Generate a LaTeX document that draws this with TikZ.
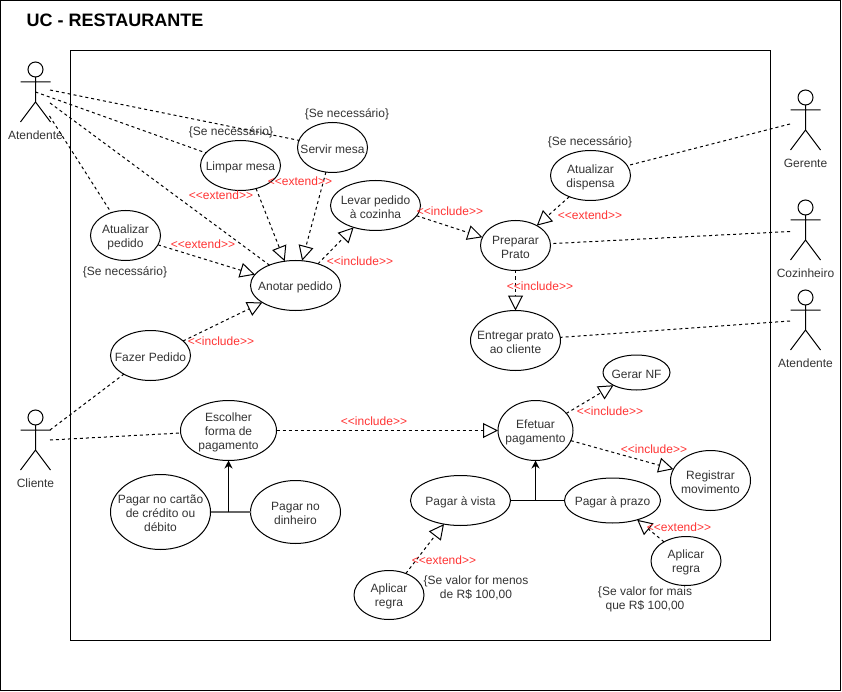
\documentclass[tikz,border=0pt]{standalone}
\usepackage{fontspec}
\setmainfont{Liberation Sans}
\usetikzlibrary{arrows.meta,calc,positioning,shapes.geometric}
\definecolor{texto}{HTML}{333333}
\definecolor{rotulo}{HTML}{FF3333}
\newcommand{\lbextend}{<{}<extend>{}>}
\newcommand{\lbinclude}{<{}<include>{}>}
\newcommand{\topo}{\rule{0pt}{12pt}}
\tikzset{
  uc/.style={draw, ellipse, inner xsep=-30pt, inner ysep=-8pt, outer sep=0pt, align=center, text=texto,
    font=\fontsize{12}{14}\selectfont},
  nota/.style={inner sep=0pt, align=center, text=texto, font=\fontsize{12}{14}\selectfont},
  rotulo/.style={inner sep=0pt, text=rotulo, font=\fontsize{12}{14}\selectfont},
  assoc/.style={dashed, dash pattern=on 3pt off 3pt},
  rel/.style={dashed, dash pattern=on 3pt off 3pt, -{Triangle[open,length=15pt,width=15pt]}},
  heranca/.style={-{Stealth[length=8pt,width=8pt]}},
  ator/.pic={
    \draw (15,7.5) circle (7.5);
    \draw (15,15) -- (15,40) (0,20) -- (30,20) (0,60) -- (15,40) -- (30,60);
    \node[nota] (-nome) at (15,73) {#1};
  }
}
\begin{document}
\begin{tikzpicture}[x=1pt, y=-1pt, line width=1pt]
  \useasboundingbox (0,0) rectangle (842,692);
  \draw (0.5,0.5) rectangle (840.5,690.5);
  \draw (70.5,50.5) rectangle (770.5,640.5);
  \node[inner sep=0pt, font=\fontsize{18}{21}\selectfont\bfseries] (titulo) at (115,20.5) {UC - RESTAURANTE};

  % atores
  \pic (atendente) at (20.5,62) {ator=Atendente};
  \pic (cliente) at (20.5,410) {ator=Cliente};
  \pic (gerente) at (790.5,90) {ator=Gerente};
  \pic (cozinheiro) at (790.5,200) {ator=Cozinheiro};
  \pic (atendente2) at (790.5,290) {ator=Atendente};
  \coordinate (ate1) at (50,90);
  \coordinate (ate2) at (35.5,92);
  \coordinate (ate3) at (50,103);
  \coordinate (ate4) at (49.5,116);
  \coordinate (cli1) at (50,430);
  \coordinate (cli2) at (50,440);
  \coordinate (ger1) at (790,124);
  \coordinate (coz1) at (790,231.5);
  \coordinate (ate5) at (790,321);

  % casos de uso
  \node[uc, minimum width=80, minimum height=50] (limpar) at (240.5,165.5) {\topo Limpar mesa};
  \node[uc, minimum width=70, minimum height=50] (servir) at (332.5,147.5) {\topo Servir mesa};
  \node[uc, minimum width=90, minimum height=50] (levar) at (375.5,205.5) {\topo Levar pedido\\à cozinha};
  \node[uc, minimum width=70, minimum height=50] (atpedido) at (125.5,235.5) {\topo Atualizar\\pedido};
  \node[uc, minimum width=90, minimum height=50] (anotar) at (295.5,285.5) {\topo Anotar pedido};
  \node[uc, minimum width=80, minimum height=50] (fazer) at (150.5,355.5) {\topo Fazer Pedido};
  \node[uc, minimum width=80, minimum height=50] (atdispensa) at (590.5,175.5) {\topo Atualizar\\dispensa};
  \node[uc, minimum width=70, minimum height=50] (preparar) at (515.5,245.5) {\topo Preparar\\Prato};
  \node[uc, minimum width=90, minimum height=60] (entregar) at (515.5,340.5) {\topo Entregar prato\\ao cliente};
  \node[uc, minimum width=67, minimum height=35] (gerarnf) at (636.5,372.5) {\topo Gerar NF};
  \node[uc, minimum width=96, minimum height=60] (escolher) at (228.5,430.5) {\topo Escolher\\forma de\\pagamento};
  \node[uc, minimum width=100, minimum height=75] (cartao) at (160.5,512) {\topo Pagar no cartão\\de crédito ou\\débito};
  \node[uc, minimum width=90, minimum height=63] (dinheiro) at (295.5,512) {\topo Pagar no\\dinheiro};
  \node[uc, minimum width=75, minimum height=60] (efetuar) at (535.5,430.5) {\topo Efetuar\\pagamento};
  \node[uc, minimum width=80, minimum height=60] (registrar) at (710.5,480.5) {\topo Registrar\\movimento};
  \node[uc, minimum width=100, minimum height=50] (vista) at (460.5,500.5) {\topo Pagar à vista};
  \node[uc, minimum width=96, minimum height=45] (prazo) at (612.5,500.5) {\topo Pagar à prazo};
  \node[uc, minimum width=70, minimum height=49] (regra1) at (389,595) {\topo Aplicar\\regra};
  \node[uc, minimum width=70, minimum height=49] (regra2) at (686,561) {\topo Aplicar\\regra};

  % associacoes
  \draw[assoc] (ate1) -- (servir.168);
  \draw[assoc] (ate2) -- (limpar.160);
  \draw[assoc] (ate3) -- (anotar.142);
  \draw[assoc] (ate4) -- (atpedido.122);
  \draw[assoc] (cli1) -- (fazer.215);
  \draw[assoc] (cli2) -- (escolher.183);
  \draw[assoc] (ger1) -- (atdispensa.15);
  \draw[assoc] (coz1) -- (preparar.3);
  \draw[assoc] (ate5) -- (entregar.4);

  % extend e include
  \draw[rel] (limpar.-56) -- (anotar.114);
  \draw[rel] (servir.255) -- (anotar.75);
  \draw[rel] (atpedido.-16) -- (anotar.165);
  \draw[rel] (anotar.44) -- (levar.225);
  \draw[rel] (fazer.24) -- (anotar.207);
  \draw[rel] (levar.-14) -- (preparar.166);
  \draw[rel] (atdispensa.225) -- (preparar.43);
  \draw[rel] (preparar.south) -- (entregar.north);
  \draw[rel] (efetuar.29) -- (gerarnf.209);
  \draw[rel] (efetuar.-16) -- (registrar.163);
  \draw[rel] (escolher.east) -- (efetuar.west);
  \draw[rel] (regra1.52) -- (vista.235);
  \draw[rel] (regra2.139) -- (prazo.-38);

  % generalizacao
  \draw[line width=2pt, black!60] (cartao.east) -- (dinheiro.west);
  \draw[heranca] (escolher.south |- cartao.east) -- (escolher.south);
  \draw (vista.east) -- (prazo.west);
  \draw[heranca] (efetuar.south |- vista.east) -- (efetuar.south);

  % rotulos
  \node[rotulo] (r1) at (221,195) {\lbextend};
  \node[rotulo] (r2) at (300,181) {\lbextend};
  \node[rotulo] (r3) at (203,244) {\lbextend};
  \node[rotulo] (r4) at (360,261) {\lbinclude};
  \node[rotulo] (r5) at (221,341) {\lbinclude};
  \node[rotulo] (r6) at (450,211) {\lbinclude};
  \node[rotulo] (r7) at (590,215) {\lbextend};
  \node[rotulo] (r8) at (540,286) {\lbinclude};
  \node[rotulo] (r9) at (374,421) {\lbinclude};
  \node[rotulo] (r10) at (610,411) {\lbinclude};
  \node[rotulo] (r11) at (654,449) {\lbinclude};
  \node[rotulo] (r12) at (679,527) {\lbextend};
  \node[rotulo] (r13) at (444,560) {\lbextend};

  % notas
  \node[nota] (n1) at (231,132) {\{Se necessário\}};
  \node[nota] (n2) at (347,114) {\{Se necessário\}};
  \node[nota] (n3) at (125,272) {\{Se necessário\}};
  \node[nota] (n4) at (590,142) {\{Se necessário\}};
  \node[nota] (n5) at (476,588) {\{Se valor for menos\\de R\$ 100,00};
  \node[nota] (n6) at (645,599) {\{Se valor for mais\\que R\$ 100,00};
\end{tikzpicture}
\end{document}
